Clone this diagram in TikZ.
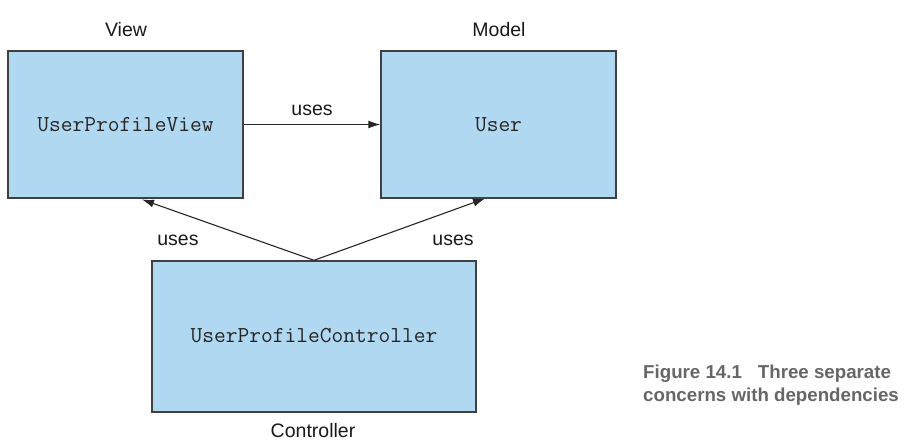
\documentclass[tikz,border=0pt]{standalone}
\usepackage{fontspec}
\setmainfont{Liberation Sans}
\usetikzlibrary{arrows.meta}
\definecolor{boxfill}{HTML}{B1D8F1}
\definecolor{boxline}{HTML}{404040}
\definecolor{capgray}{HTML}{666666}
\tikzset{
  box/.style={draw=boxline, line width=1.4pt, fill=boxfill, minimum width=#1, inner sep=0pt,
    font=\fontsize{22.8}{26}\selectfont\ttfamily, text=black!85},
  lbl/.style={inner sep=0pt, font=\fontsize{19.5}{23}\selectfont, text=black!90},
  dep/.style={draw=black!85, line width=1.1pt, -{Latex[length=12pt,width=8pt]}},
}
\begin{document}
\begin{tikzpicture}[x=1pt,y=-1pt]
\useasboundingbox (0,0) rectangle (918,445);
\node[box=235pt, minimum height=147pt] (view) at (125.5,124.5) {UserProfileView};
\node[box=235pt, minimum height=147pt] (model) at (498.5,124.5) {User};
\node[box=324pt, minimum height=151pt] (ctrl) at (314,336.5) {\raisebox{3pt}{UserProfileController}};
\node[lbl] (lview) at (126,30) {View};
\node[lbl] (lmodel) at (499,30) {Model};
\node[lbl] (lctrl) at (313,431) {Controller};
\coordinate (vt) at (142,199.5);
\coordinate (mt) at (485,198.5);
\draw[dep] (view.east) -- node[lbl, above=8pt] (u1) {uses} (model.west);
\draw[dep] (ctrl.north) -- (vt);
\draw[dep] (ctrl.north) -- (mt);
\node[lbl] (u2) at (178,240) {uses};
\node[lbl] (u3) at (453,240) {uses};
\node[inner sep=0pt, anchor=north west, align=left, text=capgray,
  font=\fontsize{18.7}{23}\selectfont\bfseries] (cap) at (643,365)
  {Figure 14.1\hspace{16pt}Three separate\\concerns with dependencies};
\end{tikzpicture}
\end{document}
